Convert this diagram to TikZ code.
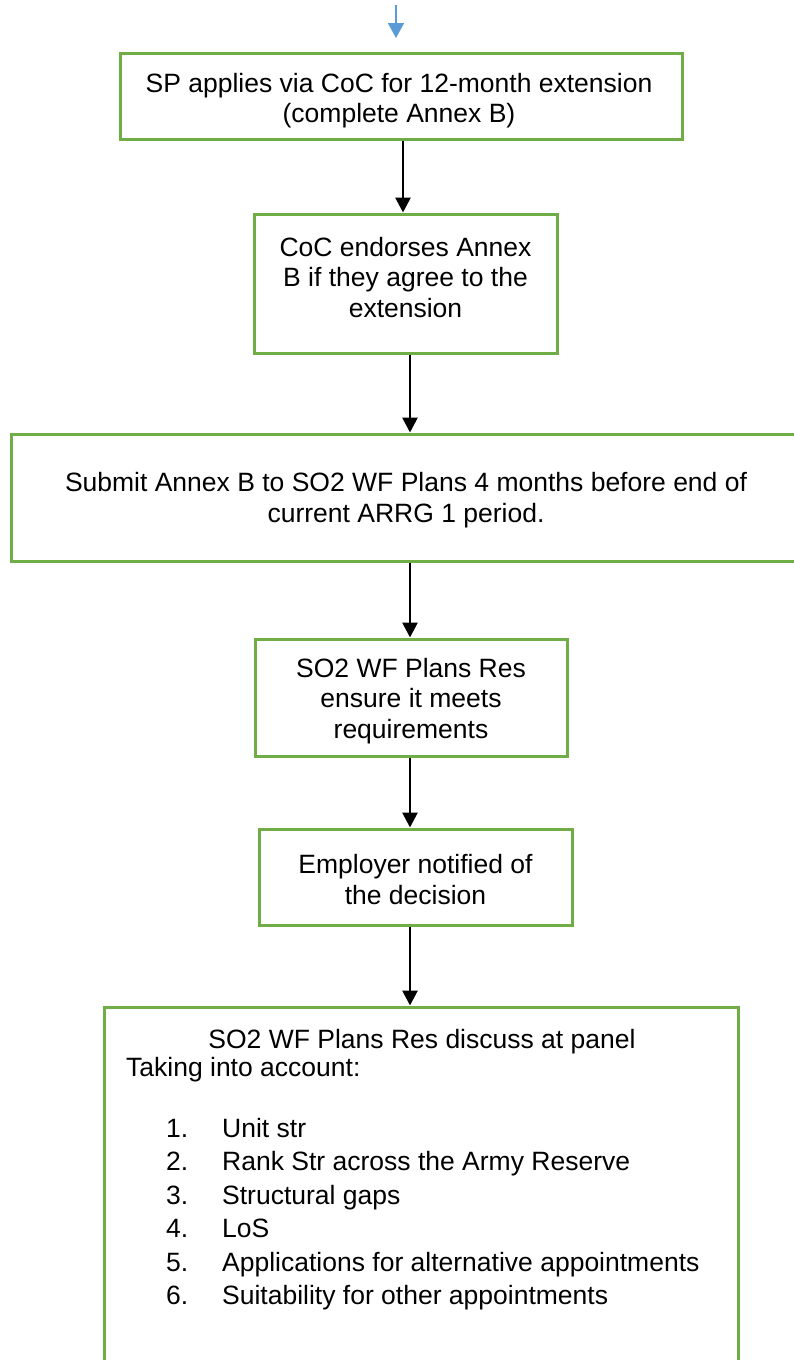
\documentclass[tikz,border=0pt]{standalone}
\usepackage{fontspec}
\setmainfont{Liberation Sans}
\usetikzlibrary{arrows.meta,calc}
\definecolor{boxgreen}{HTML}{70AD47}
\definecolor{arrblue}{HTML}{5B9BD5}
\begin{document}
\begin{tikzpicture}[x=1pt,y=-1pt,
  box/.style={draw=boxgreen,line width=3pt,rectangle,inner sep=0pt},
  txt/.style={inner sep=0pt,align=center,font=\fontsize{26.5}{30.5}\selectfont},
  arr/.style={line width=2.8pt,-{Triangle[width=15pt,length=15pt]}},
  barr/.style={draw=arrblue,line width=1.7pt,-{Triangle[width=16pt,length=15pt]}}]
\useasboundingbox (0,0) rectangle (794,1360);
\clip (0,0) rectangle (794,1360);
% columns
\coordinate (ca) at (403,0);
\coordinate (cb) at (410,0);
\coordinate (t0) at (396,5);
\coordinate (t1) at (396,38);
% boxes
\node[box,minimum width=562pt,minimum height=86pt] (b1) at (401,96) {};
\node[txt] (t1x) at (399,100.5) {SP applies via CoC for 12-month extension\\(complete Annex B)};
\node[box,minimum width=303pt,minimum height=139pt] (b2) at (405.5,283.5) {};
\node[txt] (t2) at (405.5,277.5) {CoC endorses Annex\\B if they agree to the\\extension};
\node[box,minimum width=794pt,minimum height=127pt] (b3) at (408,497.5) {};
\node[txt] (t3) at (406,500) {Submit Annex B to SO2 WF Plans 4 months before end of\\current ARRG 1 period.};
\node[box,minimum width=312pt,minimum height=117pt] (b4) at (411,697.5) {};
\node[txt] (t4) at (411,701) {SO2 WF Plans Res\\ensure it meets\\requirements};
\node[box,minimum width=313pt,minimum height=96pt] (b5) at (415.5,877) {};
\node[txt] (t5) at (415.5,879.5) {Employer notified of\\the decision};
\node[box,minimum width=634pt,minimum height=373pt] (b6) at (421,1193.5) {};
\node[txt] (h6) at (422,1042) {SO2 WF Plans Res discuss at panel};
\node[txt,anchor=west] (k6) at (126,1070) {Taking into account:};
\foreach \n/\t [count=\i from 0] in {1/Unit str,2/Rank Str across the Army Reserve,3/Structural gaps,4/LoS,5/Applications for alternative appointments,6/Suitability for other appointments}{
  \node[txt,anchor=base west] (n\n) at (166,1137+33.5*\i) {\n.};
  \node[txt,anchor=base west] (i\n) at (222,1137+33.5*\i) {\t};
}
% connectors
\draw[barr] (t0) -- (t1);
\draw[arr] (b1.south -| ca) -- (b2.north -| ca);
\draw[arr] (b2.south -| cb) -- (b3.north -| cb);
\draw[arr] (b3.south -| cb) -- (b4.north -| cb);
\draw[arr] (b4.south -| cb) -- (b5.north -| cb);
\draw[arr] (b5.south -| cb) -- (b6.north -| cb);
\end{tikzpicture}
\end{document}
